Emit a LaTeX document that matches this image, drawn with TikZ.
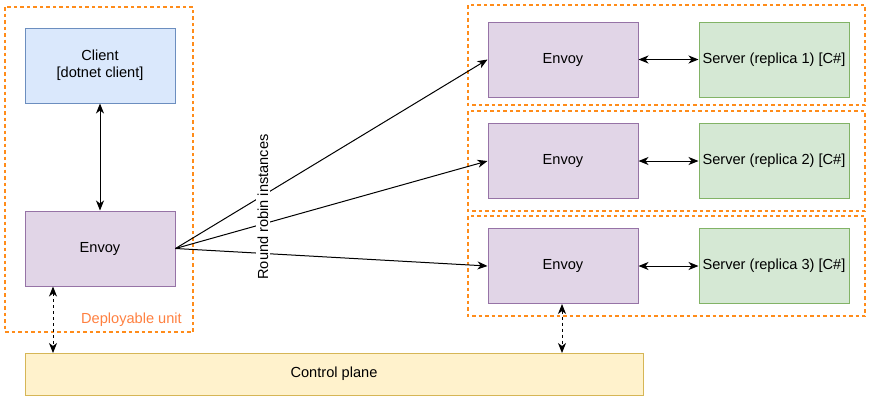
\documentclass[tikz,border=0pt]{standalone}
\usepackage{fontspec}
\setmainfont{Liberation Sans}
\usetikzlibrary{arrows.meta}
\definecolor{cfill}{HTML}{DAE8FC}\definecolor{cdraw}{HTML}{6C8EBF}
\definecolor{efill}{HTML}{E1D5E7}\definecolor{edraw}{HTML}{9673A6}
\definecolor{sfill}{HTML}{D5E8D4}\definecolor{sdraw}{HTML}{82B366}
\definecolor{pfill}{HTML}{FFF2CC}\definecolor{pdraw}{HTML}{D6B656}
\definecolor{orng}{HTML}{FF8C1A}
\definecolor{olabel}{HTML}{FF8040}
\tikzset{
  txt/.style={font=\fontsize{14.6}{17}\selectfont},
  box/.style={draw, line width=1pt, minimum width=150pt, minimum height=75pt, inner sep=0pt, align=center, txt},
  clientbox/.style={box, fill=cfill, draw=cdraw},
  envoybox/.style={box, fill=efill, draw=edraw},
  serverbox/.style={box, fill=sfill, draw=sdraw},
  planebox/.style={draw=pdraw, fill=pfill, line width=1pt, minimum width=618pt, minimum height=42pt, inner sep=0pt, txt},
  unitbox/.style={draw=orng, dash pattern=on 3.5pt off 3pt, line width=1.1pt},
  arr/.style={-{Stealth[length=10pt,width=8pt,inset=3pt]}, line width=1pt},
  darr/.style={{Stealth[length=10pt,width=8pt,inset=3pt]}-{Stealth[length=10pt,width=8pt,inset=3pt]}, line width=1pt},
  ddarr/.style={darr, dash pattern=on 3pt off 3pt},
}
\begin{document}
\begin{tikzpicture}[x=1pt,y=-1pt]
\useasboundingbox (0,0) rectangle (873,405);
% dashed unit boxes
\draw[unitbox] (5,7) rectangle (193,332);
\draw[unitbox] (468,5) rectangle (865,105);
\draw[unitbox] (468,111) rectangle (865,211);
\draw[unitbox] (468,216) rectangle (865,316);
\node[text=olabel, txt, anchor=east, inner sep=0pt] (dlabel) at (182,320) {Deployable unit};
% nodes
\node[clientbox] (client) at (100,65.5) {Client\\[0pt][dotnet client]};
\node[envoybox] (envoyL) at (100,248.5) {Envoy};
\node[envoybox] (envoy1) at (563,59.5) {Envoy};
\node[envoybox] (envoy2) at (563,161) {Envoy};
\node[envoybox] (envoy3) at (563,266) {Envoy};
\node[serverbox] (server1) at (774,59.5) {Server (replica 1) [C\#]};
\node[serverbox] (server2) at (774,161) {Server (replica 2) [C\#]};
\node[serverbox] (server3) at (774,266) {Server (replica 3) [C\#]};
\node[planebox] (plane) at (334,374) {Control plane};
% connectors
\draw[darr] (client.south) -- (envoyL.north);
\draw[arr] (envoyL.east) -- (envoy1.west);
\draw[arr] (envoyL.east) -- (envoy2.west);
\draw[arr] (envoyL.east) -- (envoy3.west);
\draw[darr] (envoy1.east) -- (server1.west);
\draw[darr] (envoy2.east) -- (server2.west);
\draw[darr] (envoy3.east) -- (server3.west);
\coordinate (pL) at (53,353);
\coordinate (pR) at (562,353);
\draw[ddarr] (envoyL.south -| pL) -- (pL);
\draw[ddarr] (envoy3.south -| pR) -- (pR);
\node[rotate=90, fill=white, inner sep=2pt, txt] (rr) at (263,207) {Round robin instances};
\end{tikzpicture}
\end{document}
